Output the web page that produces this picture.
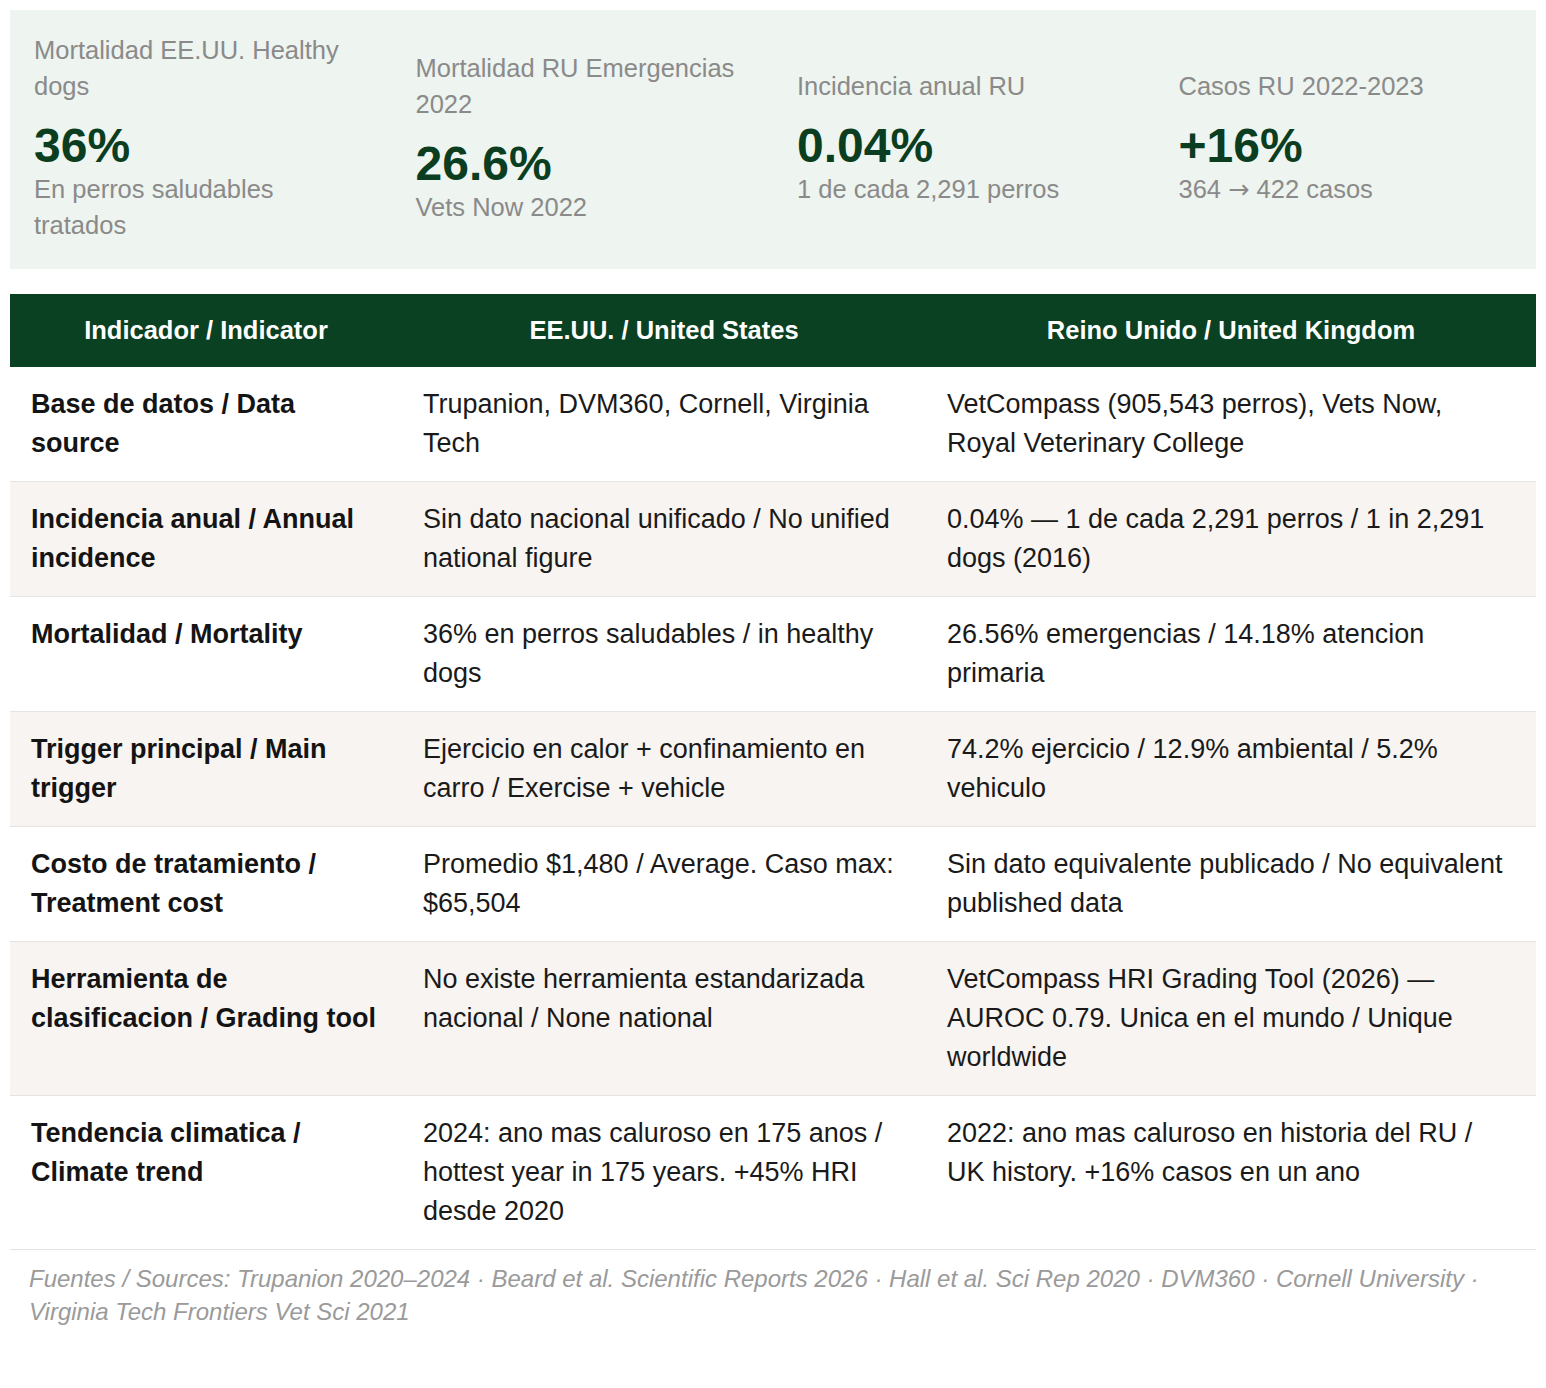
<!DOCTYPE html>
<html lang="es">
<head>
<meta charset="utf-8">
<title>Golpe de calor en perros: EE.UU. vs Reino Unido</title>
<script src="https://cdn.jsdelivr.net/npm/chart.js@4.4.1/dist/chart.umd.min.js"></script>
<style>
  html, body { margin: 0; padding: 0; background: #ffffff; }
  body { width: 1546px; font-family: "Liberation Sans", Arial, Helvetica, sans-serif; }
  .wrap { padding: 10px 10px 0 10px; }
  .kpis { display: flex; background: #eef4ef; align-items: center; }
  .kpi { width: 25%; box-sizing: border-box; padding: 22px 24px 26px 24px; }
  .kpi-label { font-size: 25.5px; line-height: 36px; color: #8a8a8a; margin-bottom: 17px; }
  .kpi-value { font-size: 48px; line-height: 50px; font-weight: bold; color: #0b3d21; }
  .kpi-sub { font-size: 25.5px; line-height: 36px; height: 36px; color: #8a8a8a; }
  .kpi-sub.multi { height: auto; }
  .arrow { font-family: "DejaVu Sans", sans-serif; font-size: 25.5px; line-height: 0; }
  table { border-collapse: collapse; width: 1526px; margin-top: 25px; table-layout: fixed; }
  th { background: #0b4123; color: #ffffff; font-size: 25.5px; line-height: 37px; font-weight: bold; padding: 18px 21px; text-align: center; }
  td { font-size: 27px; line-height: 39px; color: #1a1a1a; padding: 18px 21px 18px 21px; vertical-align: top; border-bottom: 1px solid #e4e4e4; }
  td.ind { font-weight: bold; color: #141414; }
  tr.alt td { background: #f8f4f1; }
  .foot { font-size: 24px; line-height: 33px; font-style: italic; color: #9a9a9a; padding: 12px 19px; }
</style>
</head>
<body>
<div class="wrap">
  <div class="kpis" id="kpis"></div>
  <table id="tbl">
    <colgroup><col style="width:392px"><col style="width:524px"><col style="width:610px"></colgroup>
    <thead><tr id="hdr"></tr></thead>
    <tbody id="body"></tbody>
  </table>
  <div class="foot" id="foot"></div>
</div>
<script>
// ---- Data ----
const kpiLabels = ["Mortalidad EE.UU. Healthy dogs", "Mortalidad RU Emergencias 2022", "Incidencia anual RU", "Casos RU 2022-2023"];
const kpiValues = ["36%", "26.6%", "0.04%", "+16%"];
const kpiSubs = ["En perros saludables tratados", "Vets Now 2022", "1 de cada 2,291 perros", "364 \u2192 422 casos"];

const columns = ["Indicador / Indicator", "EE.UU. / United States", "Reino Unido / United Kingdom"];
const indicators = [
  "Base de datos / Data source",
  "Incidencia anual / Annual incidence",
  "Mortalidad / Mortality",
  "Trigger principal / Main trigger",
  "Costo de tratamiento / Treatment cost",
  "Herramienta de clasificacion / Grading tool",
  "Tendencia climatica / Climate trend"
];
const usValues = [
  "Trupanion, DVM360, Cornell, Virginia Tech",
  "Sin dato nacional unificado / No unified national figure",
  "36% en perros saludables / in healthy dogs",
  "Ejercicio en calor + confinamiento en carro / Exercise + vehicle",
  "Promedio $1,480 / Average. Caso max: $65,504",
  "No existe herramienta estandarizada nacional / None national",
  "2024: ano mas caluroso en 175 anos / hottest year in 175 years. +45% HRI desde 2020"
];
const ukValues = [
  "VetCompass (905,543 perros), Vets Now, Royal Veterinary College",
  "0.04% \u2014 1 de cada 2,291 perros / 1 in 2,291 dogs (2016)",
  "26.56% emergencias / 14.18% atencion primaria",
  "74.2% ejercicio / 12.9% ambiental / 5.2% vehiculo",
  "Sin dato equivalente publicado / No equivalent published data",
  "VetCompass HRI Grading Tool (2026) \u2014 AUROC 0.79. Unica en el mundo / Unique worldwide",
  "2022: ano mas caluroso en historia del RU / UK history. +16% casos en un ano"
];
const sourcesNote = "Fuentes / Sources: Trupanion 2020\u20132024 \u00b7 Beard et al. Scientific Reports 2026 \u00b7 Hall et al. Sci Rep 2020 \u00b7 DVM360 \u00b7 Cornell University \u00b7 Virginia Tech Frontiers Vet Sci 2021";

// ---- Build ----
function el(tag, cls, text) {
  const e = document.createElement(tag);
  if (cls) e.className = cls;
  if (text != null) e.textContent = text;
  return e;
}
function withArrow(node, text) {
  const parts = text.split('\u2192');
  parts.forEach((p, i) => {
    if (i > 0) node.appendChild(el('span', 'arrow', '\u2192'));
    node.appendChild(document.createTextNode(p));
  });
  return node;
}
const kpis = document.getElementById('kpis');
kpiLabels.forEach((l, i) => {
  const k = el('div', 'kpi');
  k.appendChild(el('div', 'kpi-label', l));
  k.appendChild(el('div', 'kpi-value', kpiValues[i]));
  const sub = withArrow(el('div', 'kpi-sub'), kpiSubs[i]);
  k.appendChild(sub);
  kpis.appendChild(k);
});
// allow wrapped subtitles to grow
document.querySelectorAll('.kpi-sub').forEach(s => {
  s.classList.add('multi');
  if (!s.querySelector('.arrow')) s.style.height = 'auto';
});
const hdr = document.getElementById('hdr');
columns.forEach(c => hdr.appendChild(el('th', null, c)));
const body = document.getElementById('body');
indicators.forEach((ind, i) => {
  const tr = el('tr', i % 2 === 1 ? 'alt' : null);
  tr.appendChild(el('td', 'ind', ind));
  tr.appendChild(el('td', null, usValues[i]));
  tr.appendChild(el('td', null, ukValues[i]));
  body.appendChild(tr);
});
document.getElementById('foot').textContent = sourcesNote;
</script>
</body>
</html>
